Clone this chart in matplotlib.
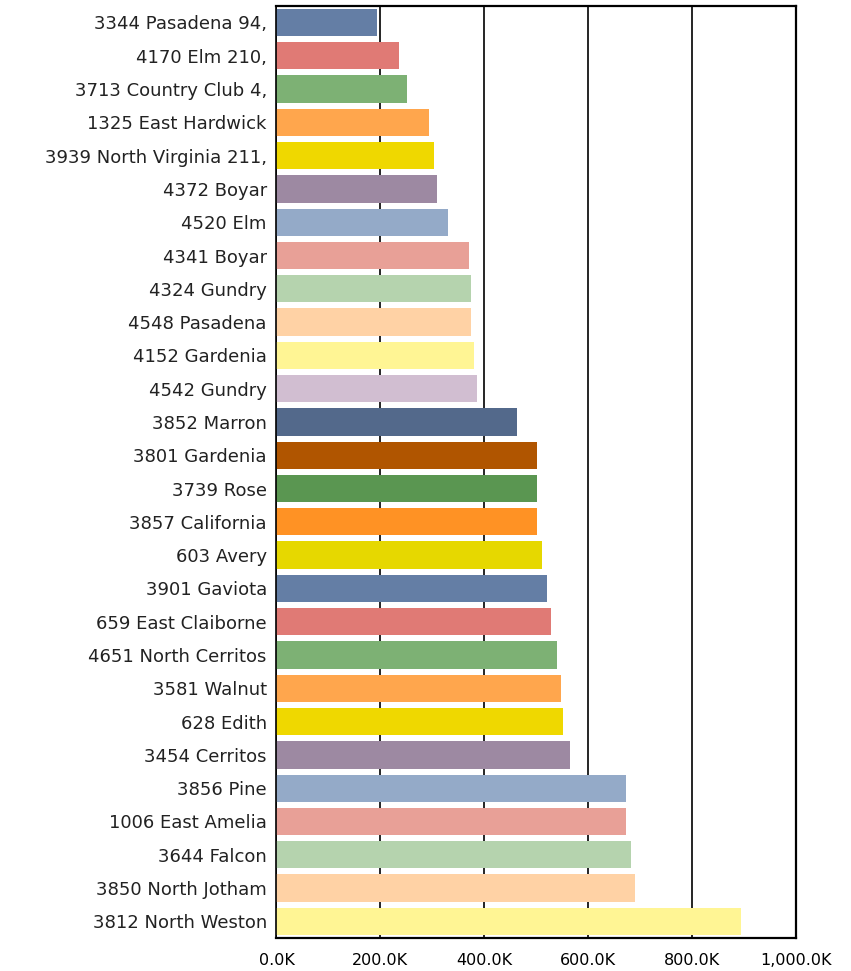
import matplotlib
matplotlib.use('Agg')
import matplotlib.pyplot as plt
from matplotlib.ticker import FuncFormatter

# addresses, top to bottom
addresses = [
    "3344 Pasadena 94,", "4170 Elm 210,", "3713 Country Club 4,", "1325 East Hardwick",
    "3939 North Virginia 211,", "4372 Boyar", "4520 Elm", "4341 Boyar", "4324 Gundry",
    "4548 Pasadena", "4152 Gardenia", "4542 Gundry", "3852 Marron", "3801 Gardenia",
    "3739 Rose", "3857 California", "603 Avery", "3901 Gaviota", "659 East Claiborne",
    "4651 North Cerritos", "3581 Walnut", "628 Edith", "3454 Cerritos", "3856 Pine",
    "1006 East Amelia", "3644 Falcon", "3850 North Jotham", "3812 North Weston",
]
# values in thousands
values = [193, 235, 251, 293, 304, 308, 331, 370, 374, 374, 381, 385, 462, 501,
          501, 501, 512, 520, 528, 539, 547, 551, 564, 672, 672, 683, 691, 895]

palette = ['#647EA5', '#E07A75', '#7DB174', '#FFA64D', '#EFD800', '#9D89A2',
           '#94AAC8', '#E8A097', '#B5D3AE', '#FFD2A5', '#FFF594', '#D1BED1',
           '#53698B', '#B05500', '#5A9651', '#FF9224', '#E6D800']

x_ticks = [0, 200, 400, 600, 800, 1000]

fig = plt.figure(figsize=(8.51, 9.71), dpi=100)
ax = fig.add_axes([0.3249, 0.034, 0.6105, 0.960])

ypos = list(range(len(addresses)))
colors = [palette[i % len(palette)] for i in ypos]
ax.barh(ypos, values, height=0.82, color=colors, zorder=2)

ax.set_ylim(len(addresses) - 0.5, -0.5)
ax.set_xlim(0, 1000)
ax.set_yticks(ypos)
ax.set_yticklabels(addresses, fontsize=13, color='#222222')
ax.set_xticks(x_ticks)
ax.xaxis.set_major_formatter(FuncFormatter(lambda v, _: f"{v:,.1f}K"))
for lab in ax.get_xticklabels():
    lab.set_fontsize(11.5)

ax.grid(axis='x', color='black', linewidth=1.2)
ax.set_axisbelow(True)
ax.tick_params(axis='y', length=0, pad=7)
ax.tick_params(axis='x', length=0, pad=11)
for side in ['top', 'bottom', 'right']:
    ax.spines[side].set_linewidth(1.6)
ax.spines['left'].set_linewidth(1.2)

fig.savefig('out.png', dpi=100)
